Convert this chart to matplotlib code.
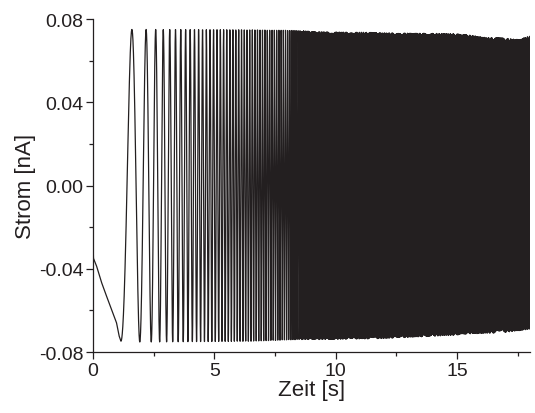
import matplotlib.pyplot as plt
import numpy as np

plt.rcParams['font.family'] = ['Liberation Sans', 'DejaVu Sans']
plt.rcParams['axes.unicode_minus'] = False

ink = '#231f20'

# start of the trace before the sweep
start_t = [0.0, 0.02, 0.15, 0.36, 0.56, 0.84, 0.97, 1.08, 1.15]
start_i = [-0.026, -0.035, -0.0388, -0.0468, -0.0532, -0.062, -0.066, -0.0724, -0.0748]

# sweep frequency read from peak spacing
freq_t = [1.15, 2.0, 3.0, 4.0, 6.0, 8.5, 8.6, 12.0, 18.0]
freq_hz = [0.85, 1.8, 3.7, 5.5, 8.5, 12.0, 22.0, 27.0, 35.0]

# upper and lower envelope of the trace
env_t = [1.15, 2.0, 6.5, 8.5, 9.3, 11.3, 12.0, 14.0, 14.8, 15.4, 16.2, 16.75, 17.5, 18.0]
env_top = [0.075, 0.075, 0.0748, 0.0745, 0.0739, 0.0736, 0.0734, 0.0731, 0.073, 0.0725, 0.0711, 0.071, 0.0702, 0.0718]
env_bot = [-0.0748, -0.0752, -0.0748, -0.074, -0.074, -0.0737, -0.0735, -0.0724, -0.072, -0.0713, -0.071, -0.0708, -0.0698, -0.069]

rate = 500  # samples per second
t = np.arange(1.15, 18.0, 1.0 / rate)
phase = 2 * np.pi * np.cumsum(np.interp(t, freq_t, freq_hz)) / rate
phase -= phase[0]
c = -np.cos(phase)
top = np.interp(t, env_t, env_top)
bot = np.interp(t, env_t, env_bot)
sweep = np.where(c > 0, c * top, -c * bot)

time = np.concatenate([start_t[:-1], t])
strom = np.concatenate([start_i[:-1], sweep])

fig = plt.figure(figsize=(5.35, 4.14), dpi=100)
ax = fig.add_axes([0.1738, 0.1473, 0.8168, 0.8043])
ax.plot(time, strom, color=ink, lw=0.9)

ax.set_xlim(0, 18)
ax.set_ylim(-0.08, 0.08)
ax.set_xticks([0, 5, 10, 15])
ax.set_xticks([2.5, 7.5, 12.5, 17.5], minor=True)
ax.set_yticks([-0.08, -0.04, 0.0, 0.04, 0.08])
ax.set_yticklabels(['-0.08', '-0.04', '0.00', '0.04', '0.08'])
ax.set_yticks([-0.06, -0.02, 0.02, 0.06], minor=True)
ax.tick_params(which='major', direction='out', length=5, width=0.9, color=ink, labelsize=14, labelcolor=ink, pad=2)
ax.tick_params(which='minor', direction='out', length=3, width=0.9, color=ink)
for s in ['top', 'right']:
    ax.spines[s].set_visible(False)
for s in ['left', 'bottom']:
    ax.spines[s].set_color(ink)
    ax.spines[s].set_linewidth(0.9)

ax.set_xlabel('Zeit [s]', fontsize=16, color=ink, labelpad=0)
ax.set_ylabel('Strom [nA]', fontsize=16, color=ink, labelpad=2)

fig.savefig('out.png', dpi=100)
